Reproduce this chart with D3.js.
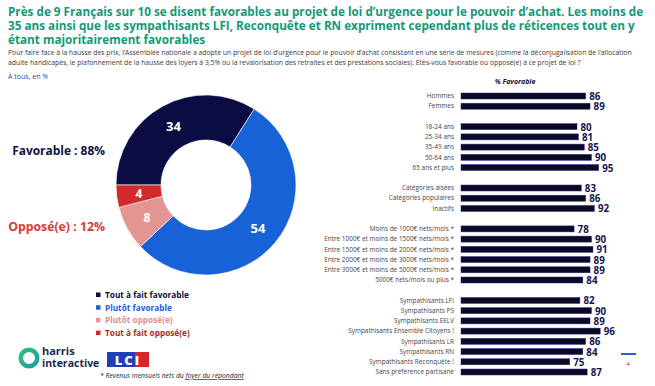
<!DOCTYPE html>
<html>
<head>
<meta charset="utf-8">
<script src="https://cdn.jsdelivr.net/npm/d3@7"></script>
<style>
  body { margin: 0; background: #fff; }
  svg { display: block; }
</style>
</head>
<body>
<div id="chart"></div>
<script>
// Données du sondage
const titleLines = [
  "Près de 9 Français sur 10 se disent favorables au projet de loi d’urgence pour le pouvoir d’achat. Les moins de",
  "35 ans ainsi que les sympathisants LFI, Reconquête et RN expriment cependant plus de réticences tout en y",
  "étant majoritairement favorables"
];
const subtitleLines = [
  "Pour faire face à la hausse des prix, l’Assemblée nationale a adopté un projet de loi d’urgence pour le pouvoir d’achat consistant en une série de mesures (comme la déconjugalisation de l’allocation",
  "adulte handicapés, le plafonnement de la hausse des loyers à 3,5% ou la revalorisation des retraites et des prestations sociales). Etes-vous favorable ou opposé(e) à ce projet de loi ?"
];

const donutCategories = ["Tout à fait favorable", "Plutôt favorable", "Plutôt opposé(e)", "Tout à fait opposé(e)"];
const donutValues = [34, 54, 8, 4];

const sexeLabels = ["Hommes", "Femmes"];
const sexeValues = [86, 89];
const ageLabels = ["18-24 ans", "25-34 ans", "35-49 ans", "50-64 ans", "65 ans et plus"];
const ageValues = [80, 81, 85, 90, 95];
const cspLabels = ["Catégories aisées", "Catégories populaires", "Inactifs"];
const cspValues = [83, 86, 92];
const revenuLabels = [
  "Moins de 1000€ nets/mois *",
  "Entre 1000€ et moins de 1500€ nets/mois *",
  "Entre 1500€ et moins de 2000€ nets/mois *",
  "Entre 2000€ et moins de 3000€ nets/mois *",
  "Entre 3000€ et moins de 5000€ nets/mois *",
  "5000€ nets/mois ou plus *"
];
const revenuValues = [78, 90, 91, 89, 89, 84];
const partiLabels = [
  "Sympathisants LFI", "Sympathisants PS", "Sympathisants EELV", "Sympathisants Ensemble Citoyens !",
  "Sympathisants LR", "Sympathisants RN", "Sympathisants Reconquête !", "Sans préférence partisane"
];
const partiValues = [82, 90, 89, 96, 86, 84, 75, 87];

const W = 655, H = 386;
const donutColors = ["#0c0c45", "#1762d6", "#e39593", "#d22a2c"];
const legendTextColors = ["#0c0c45", "#1762d6", "#e08e8c", "#b81e24"];
const navy = "#12123f";

const svg = d3.select("#chart").append("svg")
  .attr("width", W).attr("height", H)
  .style("font-family", "'Open Sans', sans-serif");

// ajuste la taille de police pour obtenir une largeur donnée
function fitSize(sel, target) {
  sel.style("font-size", "20px");
  const w = sel.node().getComputedTextLength();
  return 20 * target / w;
}

// Titre
const tl = svg.append("g").selectAll("text").data(titleLines).enter().append("text")
  .attr("x", 8)
  .attr("y", (d, i) => 16 + i * 14)
  .attr("fill", "#159878")
  .style("font-weight", 700)
  .text(d => d);
const titleSize = fitSize(d3.select(tl.nodes()[0]), 636);
tl.style("font-size", titleSize + "px");

// Sous-titre
const st = svg.selectAll(".sub").data(subtitleLines).enter().append("text")
  .attr("class", "sub")
  .attr("x", 8)
  .attr("y", (d, i) => 55 + i * 10)
  .attr("fill", "#3a3a3a")
  .text(d => d);
const subSize = fitSize(d3.select(st.nodes()[0]), 624);
st.style("font-size", subSize + "px");

svg.append("text")
  .attr("x", 8).attr("y", 79)
  .attr("fill", "#2a4a9a")
  .style("font-size", "7px")
  .text("À tous, en %");

// Donut
const cx = 206, cy = 185;
const pie = d3.pie().sort(null).startAngle(-Math.PI / 2).endAngle(1.5 * Math.PI);
const arc = d3.arc().innerRadius(45).outerRadius(90);
const arcs = pie(donutValues);
const dg = svg.append("g").attr("transform", `translate(${cx},${cy})`);
dg.selectAll("path").data(arcs).enter().append("path")
  .attr("d", arc)
  .attr("fill", (d, i) => donutColors[i])
  .attr("stroke", "#fff")
  .attr("stroke-width", 0.6);
dg.selectAll("text").data(arcs).enter().append("text")
  .attr("transform", d => `translate(${arc.centroid(d)})`)
  .attr("text-anchor", "middle")
  .attr("dy", "0.36em")
  .attr("fill", "#fff")
  .style("font-weight", 700)
  .style("font-size", d => d.data > 10 ? "13px" : "12px")
  .text(d => d.data);

const fav = svg.append("text")
  .attr("x", 105).attr("y", 155)
  .attr("text-anchor", "end")
  .attr("fill", navy)
  .style("font-weight", 700)
  .text("Favorable : " + (donutValues[0] + donutValues[1]) + "%");
fav.style("font-size", fitSize(fav, 93) + "px");
const opp = svg.append("text")
  .attr("x", 105).attr("y", 231)
  .attr("text-anchor", "end")
  .attr("fill", "#d83a34")
  .style("font-weight", 700)
  .text("Opposé(e) : " + (donutValues[2] + donutValues[3]) + "%");
opp.style("font-size", fitSize(opp, 97) + "px");

// Légende
const li = svg.append("g").selectAll("g").data(donutCategories).enter().append("g")
  .attr("transform", (d, i) => `translate(96,${295 + i * 12.7})`);
li.append("rect")
  .attr("x", 0).attr("y", -2.5).attr("width", 4.5).attr("height", 4.5)
  .attr("fill", (d, i) => donutColors[i]);
const lt = li.append("text")
  .attr("x", 9).attr("dy", "0.35em")
  .attr("fill", (d, i) => legendTextColors[i])
  .style("font-weight", 700)
  .text(d => d);
const legSize = fitSize(d3.select(lt.nodes()[0]), 84);
lt.style("font-size", legSize + "px");

// Barres "% Favorable"
const groups = [
  [sexeLabels, sexeValues],
  [ageLabels, ageValues],
  [cspLabels, cspValues],
  [revenuLabels, revenuValues],
  [partiLabels, partiValues]
];
const rows = [];
groups.forEach((g, gi) => {
  if (gi > 0) rows.push({ key: "gap" + gi, gap: true });
  g[0].forEach((lab, i) => rows.push({ key: lab, label: lab, value: g[1][i] }));
});
const bars = rows.filter(r => !r.gap);

const x = d3.scaleLinear().domain([0, 100]).range([461, 606]);
const y = d3.scalePoint().domain(rows.map(r => r.key)).range([96, 372]);

svg.append("text")
  .attr("x", 515).attr("y", 84)
  .attr("text-anchor", "middle")
  .attr("fill", navy)
  .style("font-weight", 700)
  .style("font-style", "italic")
  .style("font-size", "7px")
  .text("% Favorable");

svg.append("g").selectAll("rect").data(bars).enter().append("rect")
  .attr("x", x(0))
  .attr("y", d => y(d.key) - 3)
  .attr("width", d => x(d.value) - x(0))
  .attr("height", 6)
  .attr("fill", "#0a0a24")
  .attr("stroke", "#2a2e86")
  .attr("stroke-width", 0.5);

svg.append("g").selectAll("text").data(bars).enter().append("text")
  .attr("x", d => x(d.value) + 3.5)
  .attr("y", d => y(d.key) + 4)
  .attr("fill", "#161650")
  .style("font-weight", 700)
  .style("font-size", "9.8px")
  .text(d => d.value);

const bl = svg.append("g").selectAll("text").data(bars).enter().append("text")
  .attr("x", 454)
  .attr("y", d => y(d.key))
  .attr("dy", "0.35em")
  .attr("text-anchor", "end")
  .attr("fill", "#444")
  .text(d => d.label);
const longest = bl.filter(d => d.label === "Sympathisants Ensemble Citoyens !");
const lblSize = fitSize(longest, 106);
bl.style("font-size", lblSize + "px");

// Logos et notes
const ringGrad = svg.append("defs").append("linearGradient")
  .attr("id", "ring").attr("x1", "0").attr("y1", "0").attr("x2", "1").attr("y2", "1");
ringGrad.append("stop").attr("offset", "0%").attr("stop-color", "#2fc46a");
ringGrad.append("stop").attr("offset", "100%").attr("stop-color", "#1a9ab8");
svg.append("path")
  .attr("transform", "translate(29,358)")
  .attr("d", d3.arc().innerRadius(6).outerRadius(10.5).startAngle(0).endAngle(2 * Math.PI)())
  .attr("fill", "url(#ring)");
svg.append("text").attr("x", 42).attr("y", 355)
  .attr("fill", "#1c2a4c").style("font-weight", 700).style("font-size", "11px")
  .text("harris");
svg.append("text").attr("x", 42).attr("y", 367)
  .attr("fill", "#1c2a4c").style("font-weight", 700).style("font-size", "10.5px")
  .text("interactive");

svg.append("rect").attr("x", 107).attr("y", 352).attr("width", 42).attr("height", 15).attr("fill", "#1f3fb8");
svg.append("rect").attr("x", 135).attr("y", 352).attr("width", 14).attr("height", 15).attr("fill", "#d8262c");
svg.append("text").attr("x", 128).attr("y", 364.5)
  .attr("text-anchor", "middle")
  .attr("fill", "#fff").style("font-weight", 800).style("font-size", "13px")
  .style("letter-spacing", "2px")
  .text("LCI");

const fn = svg.append("text").attr("x", 100).attr("y", 378)
  .attr("fill", "#222").style("font-style", "italic").style("font-size", "6.8px");
fn.append("tspan").text("* Revenus mensuels nets du ");
fn.append("tspan").style("text-decoration", "underline").text("foyer du répondant");

svg.append("line").attr("x1", 621).attr("x2", 636).attr("y1", 354).attr("y2", 354)
  .attr("stroke", "#2463c8").attr("stroke-width", 2);
svg.append("text").attr("x", 628).attr("y", 366)
  .attr("text-anchor", "middle").attr("fill", "#555").style("font-size", "6px")
  .text("4");
</script>
</body>
</html>
